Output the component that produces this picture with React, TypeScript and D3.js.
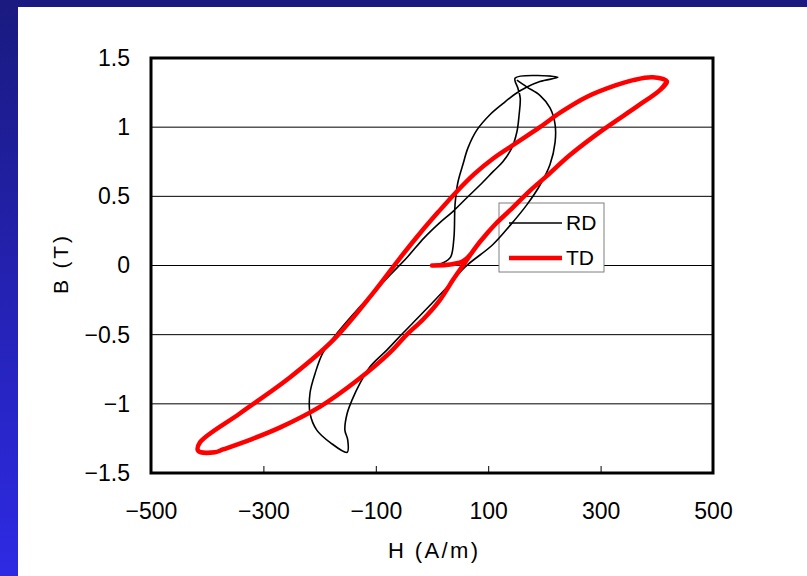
import React, { useEffect, useRef } from "react";
import * as d3 from "d3";

// tick values
const xTicks = [-500, -300, -100, 100, 300, 500];
const yTicks = [-1.5, -1, -0.5, 0, 0.5, 1, 1.5];
const gridValues = [-1, -0.5, 0, 0.5, 1];

// RD loop (black): H in A/m, B in T
const rdH = [
  0, 20, 33, 39, 41, 46, 55, 64, 80, 103, 126, 148, 169, 192, 224, 148,
  153, 157, 155, 151, 142, 126, 109, 85, 62, 37, 14, -14, -44, -75, -105, -133, -169, -194, -208, -217, -217, -205, -181, -151,
  -150, -155, -151, -142, -128, -110, -80, -52, -16, 27, 59, 108, 139, 169, 192, 210, 219, 219, 210, 192, 169, 151,
];
const rdB = [
  0, 0.02, 0.06, 0.2, 0.44, 0.6, 0.73, 0.85, 0.98, 1.09, 1.17, 1.24, 1.29, 1.33, 1.36, 1.355,
  1.28, 1.21, 1.09, 0.965, 0.85, 0.75, 0.68, 0.58, 0.49, 0.39, 0.31, 0.2, 0.06, -0.07, -0.2, -0.32, -0.49, -0.63, -0.78, -0.92, -1.07, -1.19, -1.28, -1.35,
  -1.26, -1.19, -1.07, -0.97, -0.85, -0.73, -0.61, -0.49, -0.34, -0.155, -0.01, 0.15, 0.29, 0.44, 0.58, 0.73, 0.89, 1.02, 1.14, 1.23, 1.29, 1.34,
];

// TD loop (red)
const tdH = [
  0, 55, 85, 113, 139, 174, 205, 246, 304, 365, 406, 418,
  393, 358, 325, 276, 230, 192, 150, 110, 75, 43, 11, -21, -57, -105, -176, -253, -342, -413, -416, -386,
  -372, -324, -270, -199, -133, -75, -45, -16, 14, 38, 55, 85, 113, 139, 174, 205, 246, 304, 365, 406, 418,
];
const tdB = [
  0, 0.03, 0.17, 0.3, 0.4, 0.54, 0.65, 0.8, 0.98, 1.15, 1.27, 1.33,
  1.36, 1.34, 1.3, 1.22, 1.11, 1.0, 0.886, 0.777, 0.66, 0.53, 0.386, 0.235, 0.054, -0.2, -0.54, -0.81, -1.07, -1.28, -1.34, -1.35,
  -1.33, -1.26, -1.17, -1.02, -0.83, -0.63, -0.5, -0.39, -0.25, -0.1, 0, 0.17, 0.3, 0.4, 0.54, 0.65, 0.8, 0.98, 1.15, 1.27, 1.33,
];

const seriesNames = ["RD", "TD"];

const FONT = "'Liberation Sans', Arial, sans-serif";

const App = () => {
  const svgRef = useRef<SVGSVGElement>(null);
  const width = 807;
  const height = 576;
  const plot = { left: 151, right: 713, top: 58, bottom: 473 };

  useEffect(() => {
    const svg = d3.select(svgRef.current);
    svg.selectAll("*").remove();

    // slide background
    const defs = svg.append("defs");
    const grad = defs
      .append("linearGradient")
      .attr("id", "bg")
      .attr("x1", 0)
      .attr("y1", 0)
      .attr("x2", 0)
      .attr("y2", 1);
    grad.append("stop").attr("offset", "0%").attr("stop-color", "#1a1a80");
    grad.append("stop").attr("offset", "100%").attr("stop-color", "#2e2ae4");
    svg.append("rect").attr("width", width).attr("height", height).attr("fill", "url(#bg)");
    svg.append("rect").attr("x", 18).attr("y", 7).attr("width", width - 18).attr("height", height - 7).attr("fill", "#fff");

    const x = d3.scaleLinear().domain([-500, 500]).range([plot.left, plot.right]);
    const y = d3.scaleLinear().domain([-1.5, 1.5]).range([plot.bottom, plot.top]);

    // gridlines
    svg
      .append("g")
      .selectAll("line")
      .data(gridValues)
      .join("line")
      .attr("x1", plot.left)
      .attr("x2", plot.right)
      .attr("y1", (d) => y(d))
      .attr("y2", (d) => y(d))
      .attr("stroke", "#000")
      .attr("stroke-width", 1);

    // legend box (under the curves)
    const legend = svg.append("g").attr("transform", "translate(499,203)");
    legend
      .append("rect")
      .attr("width", 105)
      .attr("height", 69)
      .attr("fill", "#fff")
      .attr("stroke", "#7f7f7f")
      .attr("stroke-width", 1);

    // curves
    const line = d3
      .line<[number, number]>()
      .x((d) => x(d[0]))
      .y((d) => y(d[1]))
      .curve(d3.curveCatmullRom.alpha(0.5));

    const rd = rdH.map((h, i) => [h, rdB[i]] as [number, number]);
    const td = tdH.map((h, i) => [h, tdB[i]] as [number, number]);

    svg
      .append("path")
      .attr("d", line(rd))
      .attr("fill", "none")
      .attr("stroke", "#000")
      .attr("stroke-width", 1.6)
      .attr("stroke-linejoin", "round");

    svg
      .append("path")
      .attr("d", line(td))
      .attr("fill", "none")
      .attr("stroke", "#ff0000")
      .attr("stroke-width", 4.5)
      .attr("stroke-linejoin", "round")
      .attr("stroke-linecap", "round");

    // legend entries
    const entries = legend
      .selectAll("g.entry")
      .data(seriesNames)
      .join("g")
      .attr("class", "entry")
      .attr("transform", (_, i) => `translate(0,${20 + i * 35})`);
    entries
      .append("line")
      .attr("x1", 10)
      .attr("x2", 63)
      .attr("stroke", (d) => (d === "RD" ? "#000" : "#ff0000"))
      .attr("stroke-width", (d) => (d === "RD" ? 1.6 : 4.5));
    entries
      .append("text")
      .attr("x", 67)
      .attr("dy", "0.35em")
      .attr("font-family", FONT)
      .attr("font-size", 21)
      .text((d) => d);

    // frame
    svg
      .append("rect")
      .attr("x", plot.left)
      .attr("y", plot.top)
      .attr("width", plot.right - plot.left)
      .attr("height", plot.bottom - plot.top)
      .attr("fill", "none")
      .attr("stroke", "#000")
      .attr("stroke-width", 3);

    // axes
    const xAxis = d3
      .axisBottom(x)
      .tickValues(xTicks)
      .tickSize(-7)
      .tickPadding(30)
      .tickFormat(d3.format("d"));
    const gx = svg.append("g").attr("transform", `translate(0,${plot.bottom})`).call(xAxis);
    gx.select(".domain").remove();
    gx.selectAll(".tick line").attr("stroke-width", 1);
    gx.selectAll("text").attr("font-family", FONT).attr("font-size", 23).attr("fill", "#000");

    const yAxis = d3
      .axisLeft(y)
      .tickValues(yTicks)
      .tickSize(0)
      .tickPadding(21)
      .tickFormat(d3.format("~g"));
    const gy = svg.append("g").attr("transform", `translate(${plot.left},0)`).call(yAxis);
    gy.select(".domain").remove();
    gy.selectAll("text").attr("font-family", FONT).attr("font-size", 23).attr("fill", "#000");

    // axis titles
    svg
      .append("text")
      .attr("x", 433)
      .attr("y", 558)
      .attr("text-anchor", "middle")
      .attr("font-family", FONT)
      .attr("font-size", 22)
      .attr("textLength", 90)
      .attr("lengthAdjust", "spacing")
      .text("H (A/m)");
    svg
      .append("text")
      .attr("transform", "translate(68,265) rotate(-90)")
      .attr("text-anchor", "middle")
      .attr("font-family", FONT)
      .attr("font-size", 21)
      .attr("textLength", 58)
      .attr("lengthAdjust", "spacing")
      .text("B (T)");
  }, []);

  return (
    <svg
      ref={svgRef}
      width={width}
      height={height}
      style={{ position: "absolute", left: 0, top: 0, display: "block" }}
    />
  );
};

export default App;
